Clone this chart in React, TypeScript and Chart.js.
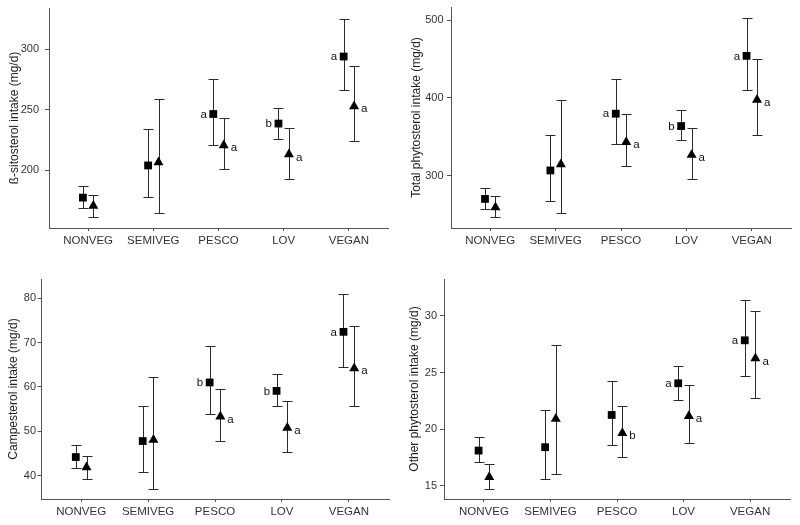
import React, { useEffect, useRef } from 'react';
import { Chart, registerables } from 'chart.js';

Chart.register(...registerables);

// ---------- data ----------
const categories = ['NONVEG', 'SEMIVEG', 'PESCO', 'LOV', 'VEGAN'];

// β-sitosterol intake (mg/d)
const sitoSqMean = [177.3, 203.9, 246.4, 238.5, 293.9];
const sitoSqLow = [169.1, 178.0, 220.4, 225.7, 266.3];
const sitoSqHigh = [186.5, 234.0, 275.1, 251.6, 324.9];
const sitoTriMean = [170.5, 206.5, 220.6, 213.0, 252.8];
const sitoTriLow = [161.0, 164.6, 201.0, 192.5, 224.3];
const sitoTriHigh = [179.8, 259.1, 243.4, 235.2, 286.2];
const sitoSqLetters = ['', '', 'a', 'b', 'a'];
const sitoTriLetters = ['', '', 'a', 'a', 'a'];
const sitoTicks = [200, 250, 300];

// Total phytosterol intake (mg/d)
const totSqMean = [269.8, 306.5, 379.7, 363.8, 454.3];
const totSqLow = [256.5, 267.2, 340.0, 345.3, 410.3];
const totSqHigh = [283.6, 352.2, 425.0, 384.5, 503.0];
const totTriMean = [259.0, 314.5, 343.0, 326.5, 397.5];
const totTriLow = [246.1, 251.7, 312.5, 295.3, 351.7];
const totTriHigh = [274.1, 397.0, 379.0, 360.8, 450.0];
const totSqLetters = ['', '', 'a', 'b', 'a'];
const totTriLetters = ['', '', 'a', 'a', 'a'];
const totTicks = [300, 400, 500];

// Campesterol intake (mg/d)
const campSqMean = [44.2, 47.8, 61.0, 59.1, 72.4];
const campSqLow = [41.7, 40.9, 54.0, 55.8, 64.5];
const campSqHigh = [47.0, 55.8, 69.3, 62.9, 81.0];
const campTriMean = [41.9, 48.1, 53.3, 50.8, 64.2];
const campTriLow = [39.2, 37.1, 47.9, 45.3, 55.8];
const campTriHigh = [44.4, 62.2, 59.5, 56.9, 73.8];
const campSqLetters = ['', '', 'b', 'b', 'a'];
const campTriLetters = ['', '', 'a', 'a', 'a'];
const campTicks = [40, 50, 60, 70, 80];

// Other phytosterol intake (mg/d)
const othSqMean = [18.1, 18.4, 21.25, 24.05, 27.85];
const othSqLow = [17.06, 15.6, 18.6, 22.54, 24.7];
const othSqHigh = [19.3, 21.7, 24.22, 25.61, 31.39];
const othTriMean = [15.75, 20.9, 19.65, 21.15, 26.25];
const othTriLow = [14.73, 16.03, 17.56, 18.8, 22.72];
const othTriHigh = [16.9, 27.44, 22.04, 23.86, 30.41];
const othSqLetters = ['', '', '', 'a', 'a'];
const othTriLetters = ['', '', 'b', 'a', 'a'];
const othTicks = [15, 20, 25, 30];

// ---------- styling ----------
const FONT = "'Liberation Sans', Arial, Helvetica, sans-serif";
const DODGE = 0.08;
const AXIS_COLOR = '#555555';
const TEXT_COLOR = '#333333';

type PanelData = {
  title: string;
  sqMean: number[]; sqLow: number[]; sqHigh: number[];
  triMean: number[]; triLow: number[]; triHigh: number[];
  sqLetters: string[]; triLetters: string[];
  ticks: number[]; yMin: number; yMax: number;
};

type Layout = {
  left: number; top: number; width: number; height: number;
  yAxisWidth: number; padTop: number; padRight: number; xAxisHeight: number;
  yTickLen: number; yTickPad: number; titlePad: number;
};

const panels: { data: PanelData; layout: Layout }[] = [
  {
    data: {
      title: 'ß-sitosterol intake (mg/d)',
      sqMean: sitoSqMean, sqLow: sitoSqLow, sqHigh: sitoSqHigh,
      triMean: sitoTriMean, triLow: sitoTriLow, triHigh: sitoTriHigh,
      sqLetters: sitoSqLetters, triLetters: sitoTriLetters,
      ticks: sitoTicks, yMin: 152.2, yMax: 334,
    },
    layout: { left: 0, top: 0, width: 400, height: 262, yAxisWidth: 49, padTop: 8, padRight: 12, xAxisHeight: 34, yTickLen: 4, yTickPad: 6, titlePad: 7.8 },
  },
  {
    data: {
      title: 'Total phytosterol intake (mg/d)',
      sqMean: totSqMean, sqLow: totSqLow, sqHigh: totSqHigh,
      triMean: totTriMean, triLow: totTriLow, triHigh: totTriHigh,
      sqLetters: totSqLetters, triLetters: totTriLetters,
      ticks: totTicks, yMin: 232.3, yMax: 517.3,
    },
    layout: { left: 400, top: 0, width: 400, height: 262, yAxisWidth: 51, padTop: 7, padRight: 9, xAxisHeight: 34, yTickLen: 4, yTickPad: 3.5, titlePad: 9.5 },
  },
  {
    data: {
      title: 'Campesterol intake (mg/d)',
      sqMean: campSqMean, sqLow: campSqLow, sqHigh: campSqHigh,
      triMean: campTriMean, triLow: campTriLow, triHigh: campTriHigh,
      sqLetters: campSqLetters, triLetters: campTriLetters,
      ticks: campTicks, yMin: 34.75, yMax: 84.3,
    },
    layout: { left: 0, top: 262, width: 400, height: 263, yAxisWidth: 41, padTop: 17, padRight: 11, xAxisHeight: 26, yTickLen: 3.5, yTickPad: 1.5, titlePad: 6.1 },
  },
  {
    data: {
      title: 'Other phytosterol intake (mg/d)',
      sqMean: othSqMean, sqLow: othSqLow, sqHigh: othSqHigh,
      triMean: othTriMean, triLow: othTriLow, triHigh: othTriHigh,
      sqLetters: othSqLetters, triLetters: othTriLetters,
      ticks: othTicks, yMin: 13.82, yMax: 33.27,
    },
    layout: { left: 400, top: 262, width: 400, height: 263, yAxisWidth: 44, padTop: 17, padRight: 10, xAxisHeight: 26, yTickLen: 4, yTickPad: 3, titlePad: 7.8 },
  },
];

function PanelChart({ data, layout }: { data: PanelData; layout: Layout }) {
  const ref = useRef<HTMLCanvasElement | null>(null);

  useEffect(() => {
    const canvas = ref.current;
    if (!canvas) return;

    const plugin = {
      id: 'errorBarsAndLetters',
      beforeDatasetsDraw(chart: any) {
        const ctx = chart.ctx;
        const xs = chart.scales.x;
        const ys = chart.scales.y;
        ctx.save();
        ctx.strokeStyle = '#2b2b2b';
        ctx.lineWidth = 1;
        const series = [
          { off: -DODGE, lo: data.sqLow, hi: data.sqHigh },
          { off: DODGE, lo: data.triLow, hi: data.triHigh },
        ];
        series.forEach((s) => {
          s.lo.forEach((lo, i) => {
            const px = Math.round(xs.getPixelForValue(i + 1 + s.off)) + 0.5;
            const pLo = Math.round(ys.getPixelForValue(lo)) + 0.5;
            const pHi = Math.round(ys.getPixelForValue(s.hi[i])) + 0.5;
            ctx.beginPath();
            ctx.moveTo(px, pLo);
            ctx.lineTo(px, pHi);
            ctx.moveTo(px - 5, pLo);
            ctx.lineTo(px + 5, pLo);
            ctx.moveTo(px - 5, pHi);
            ctx.lineTo(px + 5, pHi);
            ctx.stroke();
          });
        });
        ctx.restore();
      },
      afterDatasetsDraw(chart: any) {
        const ctx = chart.ctx;
        const xs = chart.scales.x;
        const ys = chart.scales.y;
        ctx.save();
        ctx.fillStyle = '#111111';
        ctx.font = `11.5px ${FONT}`;
        ctx.textBaseline = 'middle';
        data.sqLetters.forEach((t, i) => {
          if (!t) return;
          const px = xs.getPixelForValue(i + 1 - DODGE);
          const py = ys.getPixelForValue(data.sqMean[i]);
          ctx.textAlign = 'right';
          ctx.fillText(t, px - 6.5, py + 0.5);
        });
        data.triLetters.forEach((t, i) => {
          if (!t) return;
          const px = xs.getPixelForValue(i + 1 + DODGE);
          const py = ys.getPixelForValue(data.triMean[i]);
          ctx.textAlign = 'left';
          ctx.fillText(t, px + 7, py + 3);
        });
        ctx.restore();
      },
    };

    const chart = new Chart(canvas, {
      type: 'scatter',
      data: {
        datasets: [
          {
            label: 'square',
            data: data.sqMean.map((v, i) => ({ x: i + 1 - DODGE, y: v })),
            pointStyle: 'rect',
            pointRadius: 5.5,
            pointBackgroundColor: '#000000',
            pointBorderWidth: 0,
            borderWidth: 0,
          },
          {
            label: 'triangle',
            data: data.triMean.map((v, i) => ({ x: i + 1 + DODGE, y: v })),
            pointStyle: 'triangle',
            pointRadius: 5.8,
            pointBackgroundColor: '#000000',
            pointBorderWidth: 0,
            borderWidth: 0,
          },
        ],
      },
      options: {
        responsive: false,
        animation: false,
        devicePixelRatio: 1,
        events: [],
        layout: {
          padding: { top: layout.padTop, right: layout.padRight, bottom: 0, left: 0 },
        },
        plugins: {
          legend: { display: false },
          tooltip: { enabled: false },
        },
        scales: {
          x: {
            type: 'linear',
            min: 0.4,
            max: 5.6,
            afterBuildTicks: (scale: any) => {
              scale.ticks = categories.map((_, i) => ({ value: i + 1 }));
            },
            afterFit: (scale: any) => {
              scale.height = layout.xAxisHeight;
              scale.paddingLeft = 0;
              scale.paddingRight = 0;
              scale.paddingTop = 0;
              scale.paddingBottom = 0;
            },
            grid: {
              display: true,
              drawOnChartArea: false,
              drawTicks: true,
              tickLength: 3,
              color: AXIS_COLOR,
              tickColor: AXIS_COLOR,
            },
            border: { display: true, color: AXIS_COLOR, width: 1 },
            ticks: {
              autoSkip: false,
              maxRotation: 0,
              padding: 3,
              color: TEXT_COLOR,
              font: { family: FONT, size: 11.5 },
              callback: (value: any) => categories[Math.round(Number(value)) - 1] ?? '',
            },
          },
          y: {
            type: 'linear',
            min: data.yMin,
            max: data.yMax,
            afterBuildTicks: (scale: any) => {
              scale.ticks = data.ticks.map((v) => ({ value: v }));
            },
            afterFit: (scale: any) => {
              scale.width = layout.yAxisWidth;
              scale.paddingTop = 0;
              scale.paddingBottom = 0;
              scale.paddingLeft = 0;
              scale.paddingRight = 0;
            },
            grid: {
              display: true,
              drawOnChartArea: false,
              drawTicks: true,
              tickLength: layout.yTickLen,
              color: AXIS_COLOR,
              tickColor: AXIS_COLOR,
            },
            border: { display: true, color: AXIS_COLOR, width: 1 },
            ticks: {
              padding: layout.yTickPad,
              color: TEXT_COLOR,
              font: { family: FONT, size: 11 },
              callback: (value: any) => String(value),
            },
            title: {
              display: true,
              text: data.title,
              color: '#222222',
              font: { family: FONT, size: 12 },
              padding: { top: layout.titlePad, bottom: 0 },
            },
          },
        },
      },
      plugins: [plugin],
    } as any);

    return () => chart.destroy();
  }, [data, layout]);

  return (
    <canvas
      ref={ref}
      width={layout.width}
      height={layout.height}
      style={{ position: 'absolute', left: layout.left, top: layout.top, width: layout.width, height: layout.height }}
    />
  );
}

export default function App() {
  return (
    <div style={{ position: 'absolute', left: 0, top: 0, width: 800, height: 525, background: '#ffffff' }}>
      {panels.map((p, i) => (
        <PanelChart key={i} data={p.data} layout={p.layout} />
      ))}
    </div>
  );
}
